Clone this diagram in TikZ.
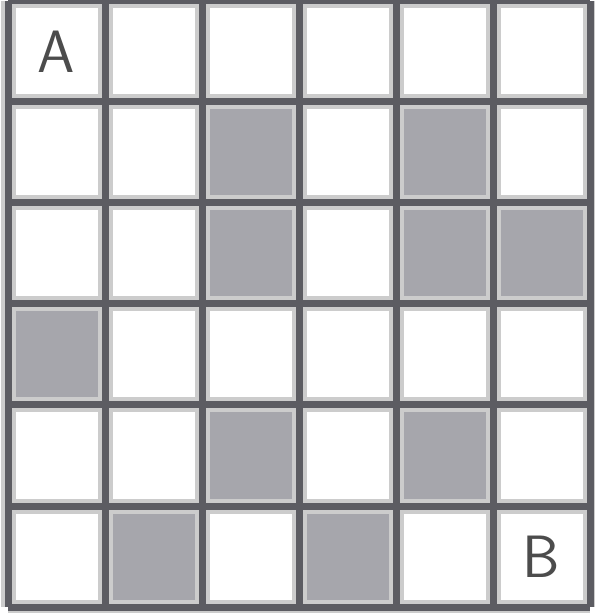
\documentclass[tikz,border=0pt]{standalone}
\usepackage{tikz}

\definecolor{shade}{RGB}{166,166,172}
\definecolor{rule}{RGB}{92,92,98}

\begin{document}
\begin{tikzpicture}[x=1.94cm, y=2.02cm,
  cell/.style={minimum width=1.94cm, minimum height=2.02cm, inner sep=0pt},
  dark/.style={cell, fill=shade},
  halo/.style={line width=0.30cm, draw=black!20},
  gline/.style={line width=0.14cm, draw=rule},
  corner/.style={font=\sffamily\fontsize{34}{34}\selectfont, text=black!70}]

\useasboundingbox (-0.16cm,-0.12cm) rectangle (11.74cm,12.14cm);

% =================================================================================
% the cells, row 1 at the top
% =================================================================================
\foreach \c in {1,...,6}
  \foreach \r in {1,...,6}
    \node[cell] (c\c\r) at ({\c-0.5},{6.5-\r}) {};

\foreach \c/\r in {3/2, 5/2, 3/3, 5/3, 6/3, 1/4, 3/5, 5/5, 2/6, 4/6}
  \node[dark] (c\c\r) at ({\c-0.5},{6.5-\r}) {};

% =================================================================================
% the grid lines
% =================================================================================
\foreach \i in {0,...,6} {
  \draw[halo] (\i,0) -- (\i,6);
  \draw[halo] (0,\i) -- (6,\i);
}
\foreach \i in {0,...,6} {
  \draw[gline] (\i,0) -- (\i,6);
  \draw[gline] (0,\i) -- (6,\i);
}

% the two corners
\node[corner] (start) at (c11) {A};
\node[corner] (goal)  at (c66) {B};

\end{tikzpicture}
\end{document}
